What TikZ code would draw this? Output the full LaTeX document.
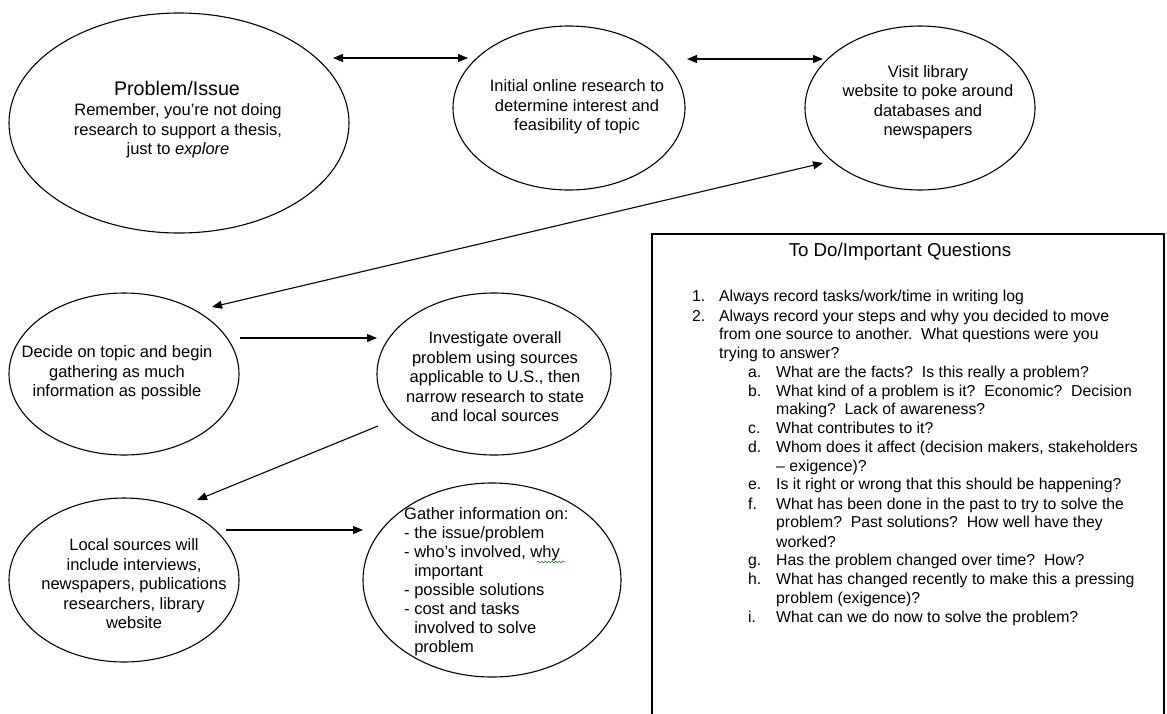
\documentclass[tikz,border=0pt]{standalone}
\usepackage{fontspec}
\setmainfont{Liberation Sans}
\usetikzlibrary{arrows.meta,shapes.geometric,decorations.pathmorphing}
\begin{document}
\begin{tikzpicture}[x=1pt,y=-1pt,
  bubble/.style={draw, line width=1.1pt, ellipse, inner sep=0pt},
  etext/.style={align=center, inner sep=0pt, font=\fontsize{16.5pt}{19.5pt}\selectfont},
  ltext/.style={align=left, inner sep=0pt, font=\fontsize{16.5pt}{19pt}\selectfont},
  qtext/.style={anchor=base west, inner sep=0pt, font=\fontsize{15.8pt}{18.8pt}\selectfont},
  conn/.style={line width=1.1pt, -{Triangle[length=10pt,width=8pt]}},
  dconn/.style={line width=1.1pt, {Triangle[length=10pt,width=8pt]}-{Triangle[length=10pt,width=8pt]}}
]
\useasboundingbox (0,0) rectangle (1167,713);
\fill[white] (0,0) rectangle (1167,713);

% ellipses
\node[bubble, minimum width=340pt, minimum height=220pt] (P) at (179,123) {};
\node[bubble, minimum width=232pt, minimum height=164pt] (I) at (569,108) {};
\node[bubble, minimum width=230pt, minimum height=164pt] (V) at (920,108) {};
\node[bubble, minimum width=230pt, minimum height=162pt] (D) at (124,374) {};
\node[bubble, minimum width=234pt, minimum height=162pt] (N) at (494,374) {};
\node[bubble, minimum width=230pt, minimum height=164pt] (L) at (124,580) {};
\node[bubble, minimum width=258pt, minimum height=194pt] (G) at (492,580) {};

% ellipse texts
\node[etext, font=\fontsize{19.7pt}{22pt}\selectfont] (tPh) at (177,88) {Problem/Issue};
\node[etext] (tPb) at (178,131) {Remember, you're not doing\\research to support a thesis,\\just to \textit{explore}};
\node[etext] (tI) at (577,107) {Initial online research to\\determine interest and\\feasibility of topic};
\node[etext] (tV) at (928,102) {Visit library\\website to poke around\\databases and\\newspapers};
\node[etext] (tD) at (117,373) {Decide on topic and begin\\gathering as much\\information as possible};
\node[etext] (tN) at (495,377) {Investigate overall\\problem using sources\\applicable to U.S., then\\narrow research to state\\and local sources};
\node[etext] (tL) at (134,584) {Local sources will\\include interviews,\\newspapers, publications\\researchers, library\\website};
\node[ltext, anchor=west] (tG) at (404,582) {Gather information on:\\- the issue/problem\\- who's involved, why\\\phantom{- }important\\- possible solutions\\- cost and tasks\\\phantom{- }involved to solve\\\phantom{- }problem};
\coordinate (sq1) at (537,562);
\coordinate (sq2) at (565,562);
\draw[green!55!black, line width=0.6pt, decorate, decoration={snake, amplitude=0.9pt, segment length=3.5pt}] (sq1) -- (sq2);

% connectors
\coordinate (a1s) at (333,58); \coordinate (a1e) at (468,58);
\coordinate (a2s) at (687,59); \coordinate (a2e) at (823,59);
\coordinate (a3s) at (823,163); \coordinate (a3e) at (212,307);
\coordinate (a4s) at (240,338); \coordinate (a4e) at (377,338);
\coordinate (a5s) at (378,426); \coordinate (a5e) at (197,500);
\coordinate (a6s) at (226,530); \coordinate (a6e) at (363,530);
\draw[dconn] (a1s) -- (a1e);
\draw[dconn] (a2s) -- (a2e);
\draw[dconn] (a3s) -- (a3e);
\draw[conn] (a4s) -- (a4e);
\draw[conn] (a5s) -- (a5e);
\draw[conn] (a6s) -- (a6e);

% box
\coordinate (b1) at (652,725); \coordinate (b2) at (652,234);
\coordinate (b3) at (1164,234); \coordinate (b4) at (1164,725);
\draw[line width=1.4pt] (b1) -- (b2) -- (b3) -- (b4);
\node[inner sep=0pt, font=\fontsize{18.7pt}{21pt}\selectfont] (title) at (900,252) {To Do/Important Questions};

\node[qtext] (n1) at (692,301) {1.};
\node[qtext] (q1) at (719,301) {Always record tasks/work/time in writing log};
\node[qtext] (n2) at (692,321) {2.};
\node[qtext] (q2) at (719,321) {Always record your steps and why you decided to move};
\node[qtext] (q2b) at (719,339) {from one source to another.\ \ What questions were you};
\node[qtext] (q2c) at (719,358) {trying to answer?};
\node[qtext] (la) at (748,377) {a.};
\node[qtext] (qa) at (776,377) {What are the facts?\ \ Is this really a problem?};
\node[qtext] (lb) at (748,396) {b.};
\node[qtext] (qb) at (776,396) {What kind of a problem is it?\ \ Economic?\ \ Decision};
\node[qtext] (qb2) at (776,414) {making?\ \ Lack of awareness?};
\node[qtext] (lc) at (748,433) {c.};
\node[qtext] (qc) at (776,433) {What contributes to it?};
\node[qtext] (ld) at (748,452) {d.};
\node[qtext] (qd) at (776,452) {Whom does it affect (decision makers, stakeholders};
\node[qtext] (qd2) at (776,471) {– exigence)?};
\node[qtext] (le) at (748,489) {e.};
\node[qtext] (qe) at (776,489) {Is it right or wrong that this should be happening?};
\node[qtext] (lf) at (748,509) {f.};
\node[qtext] (qf) at (776,509) {What has been done in the past to try to solve the};
\node[qtext] (qf2) at (776,527) {problem?\ \ Past solutions?\ \ How well have they};
\node[qtext] (qf3) at (776,547) {worked?};
\node[qtext] (lg) at (748,565) {g.};
\node[qtext] (qg) at (776,565) {Has the problem changed over time?\ \ How?};
\node[qtext] (lh) at (748,584) {h.};
\node[qtext] (qh) at (776,584) {What has changed recently to make this a pressing};
\node[qtext] (qh2) at (776,603) {problem (exigence)?};
\node[qtext] (li) at (748,622) {i.};
\node[qtext] (qi) at (776,622) {What can we do now to solve the problem?};
\end{tikzpicture}
\end{document}
